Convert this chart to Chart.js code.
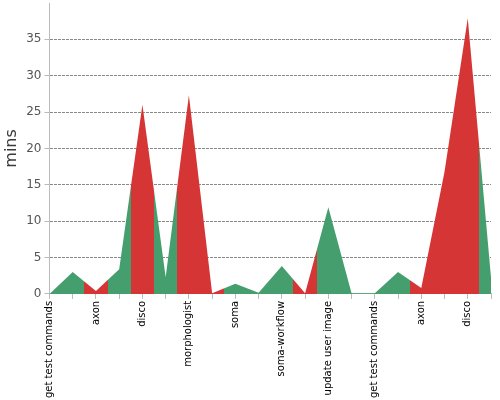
<!DOCTYPE html>
<html lang="en">
<head>
    <meta charset="UTF-8">
    <title>Build durations</title>
    <style>
        html, body { margin: 0; padding: 0; background: #fff; }
        #wrap { width: 500px; height: 400px; }
    </style>
</head>
<body>
    <div id="wrap">
        <canvas id="durChart"></canvas>
    </div>
    <script src="https://cdn.jsdelivr.net/npm/chart.js"></script>
    <script>
        // one point per build, only every other build gets a label
        const builds = [
            'get test commands', '', 'axon', '', 'disco', '', 'morphologist', '',
            'soma', '', 'soma-workflow', '', 'update user image', '',
            'get test commands', '', 'axon', '', 'disco', ''
        ];
        const minutes = [0, 3.0, 0.4, 3.4, 26.0, 2.3, 27.3, 0.1, 1.4, 0.15,
                         3.85, 0.1, 11.9, 0.1, 0.1, 3.0, 0.8, 16.8, 37.9, 2.3];
        const status = ['ok', 'ok', 'fail', 'ok', 'fail', 'ok', 'fail', 'fail', 'ok', 'ok',
                        'ok', 'fail', 'ok', 'ok', 'ok', 'ok', 'fail', 'fail', 'fail', 'ok'];

        const GREEN = '#459e6d';
        const RED = '#d63535';

        // horizontal gradient with hard stops, each build owns the band halfway to its neighbours
        function bandFill(context) {
            const chart = context.chart;
            const area = chart.chartArea;
            if (!area) return GREEN;
            const x = chart.scales.x;
            const w = area.right - area.left;
            const g = chart.ctx.createLinearGradient(area.left, 0, area.right, 0);
            const n = minutes.length;
            for (let i = 0; i < n; i++) {
                const p = x.getPixelForValue(i);
                const a = i === 0 ? area.left : (x.getPixelForValue(i - 1) + p) / 2;
                const b = i === n - 1 ? area.right : (x.getPixelForValue(i + 1) + p) / 2;
                const c = status[i] === 'ok' ? GREEN : RED;
                g.addColorStop(Math.min(Math.max((a - area.left) / w, 0), 1), c);
                g.addColorStop(Math.min(Math.max((b - area.left) / w, 0), 1), c);
            }
            return g;
        }

        Chart.defaults.font.family = '"DejaVu Sans", Verdana, sans-serif';

        new Chart(document.getElementById('durChart'), {
            type: 'line',
            data: {
                labels: builds,
                datasets: [{
                    data: minutes,
                    fill: 'origin',
                    backgroundColor: bandFill,
                    borderWidth: 0,
                    pointRadius: 0,
                    tension: 0
                }]
            },
            options: {
                responsive: true,
                maintainAspectRatio: false,
                animation: false,
                layout: { padding: { top: 3, right: 9, bottom: 0, left: 2 } },
                plugins: {
                    legend: { display: false },
                    tooltip: { enabled: false }
                },
                scales: {
                    x: {
                        offset: false,
                        border: { color: '#bbb' },
                        grid: {
                            drawOnChartArea: false,
                            drawTicks: true,
                            tickLength: 5,
                            tickColor: '#bbb'
                        },
                        ticks: {
                            autoSkip: false,
                            minRotation: 90,
                            maxRotation: 90,
                            color: '#000',
                            font: { size: 10 },
                            padding: 2
                        },
                        afterFit: (s) => { s.paddingRight = 0; }
                    },
                    y: {
                        min: 0,
                        max: 40,
                        border: { color: '#bbb', dash: [3, 1] },
                        title: {
                            display: true,
                            text: 'mins',
                            color: '#3a3a3a',
                            font: { size: 16 },
                            padding: { top: 0, bottom: 2 }
                        },
                        grid: {
                            color: (ctx) => (ctx.tick && (ctx.tick.value === 0 || ctx.tick.value === 40)) ? 'rgba(0,0,0,0)' : '#888',
                            tickBorderDash: [],
                            tickColor: (ctx) => (ctx.tick && ctx.tick.value === 40) ? 'rgba(0,0,0,0)' : '#bbb',
                            tickLength: 5
                        },
                        ticks: {
                            stepSize: 5,
                            color: '#555',
                            font: { size: 12 },
                            padding: 3,
                            callback: (v) => v === 40 ? '' : v
                        },
                        afterFit: (s) => { s.paddingTop = 0; }
                    }
                }
            }
        });
    </script>
</body>
</html>
